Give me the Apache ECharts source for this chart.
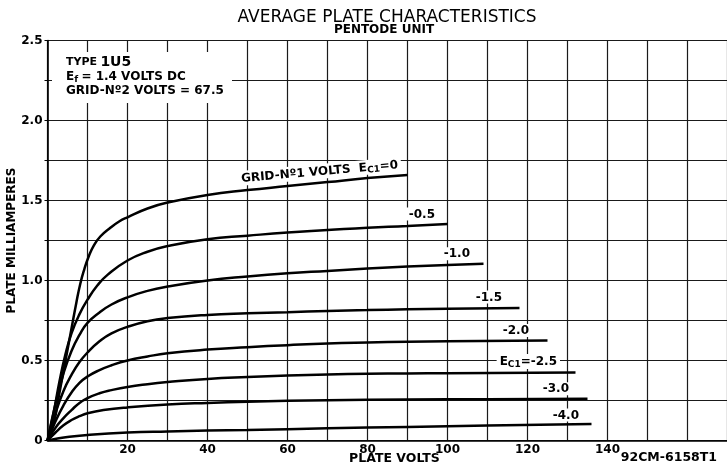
<!DOCTYPE html>
<html><head><meta charset="utf-8">
<script src="https://cdn.jsdelivr.net/npm/echarts@6/dist/echarts.min.js"></script>
<style>html,body{margin:0;padding:0;background:#fff}#c{width:727px;height:463px}</style>
</head><body><div id="c"></div>
<script>
// Plate volts / plate milliamperes pairs, one curve per grid-No.1 voltage
const ec0  = [[0,0],[1.5,0.1],[3,0.3],[4.5,0.5],[6,0.7],[7.2,0.86],[8.2,0.98],[9.2,1.07],[10.3,1.15],[11.6,1.22],[13.2,1.275],[15.5,1.325],[18,1.37],[20,1.395],[25,1.45],[30,1.487],[40,1.535],[50,1.565],[60,1.59],[70,1.615],[80,1.64],[90,1.66]];
const ec05 = [[0,0],[1.5,0.17],[3,0.37],[4.5,0.54],[6,0.67],[8,0.79],[10,0.88],[12.5,0.97],[15,1.035],[20,1.125],[25,1.18],[30,1.215],[40,1.258],[50,1.28],[60,1.30],[70,1.315],[80,1.33],[90,1.34],[100,1.353]];
const ec10 = [[0,0],[2,0.23],[4,0.42],[6,0.56],[8,0.66],[10,0.735],[13,0.8],[16,0.85],[20,0.895],[25,0.935],[30,0.962],[40,1.0],[50,1.025],[60,1.045],[70,1.06],[80,1.075],[90,1.087],[100,1.097],[109,1.105]];
const ec15 = [[0,0],[2,0.17],[4,0.31],[6,0.41],[8,0.49],[10,0.55],[13,0.62],[16,0.67],[20,0.71],[25,0.745],[30,0.765],[40,0.785],[50,0.795],[60,0.802],[70,0.81],[80,0.815],[90,0.82],[100,0.823],[118,0.828]];
const ec20 = [[0,0],[2,0.12],[4,0.22],[6,0.3],[8,0.36],[10,0.4],[13,0.44],[16,0.47],[20,0.5],[25,0.525],[30,0.545],[40,0.568],[50,0.583],[60,0.596],[70,0.607],[80,0.613],[90,0.617],[100,0.62],[125,0.625]];
const ec25 = [[0,0],[2,0.08],[4,0.14],[6,0.19],[8,0.235],[10,0.265],[13,0.295],[16,0.315],[20,0.335],[25,0.352],[30,0.365],[40,0.385],[50,0.397],[60,0.406],[70,0.413],[80,0.417],[90,0.419],[100,0.421],[132,0.425]];
const ec30 = [[0,0],[2,0.05],[4,0.095],[6,0.128],[8,0.152],[10,0.17],[14,0.19],[20,0.207],[30,0.225],[40,0.235],[50,0.242],[70,0.252],[90,0.256],[110,0.258],[135,0.261]];
const ec40 = [[0,0],[2.5,0.012],[5,0.022],[10,0.035],[20,0.05],[30,0.057],[40,0.062],[50,0.066],[70,0.076],[90,0.085],[110,0.093],[136,0.103]];

const curves = [ec0, ec05, ec10, ec15, ec20, ec25, ec30, ec40];
const curveLabels = ['GRID-Nº1 VOLTS  E{s|C1}=0', '-0.5', '-1.0', '-1.5', '-2.0', 'E{s|C1}=-2.5', '-3.0', '-4.0'];
const xTickLabels = [20, 40, 60, 80, 100, 120, 140];
const yTickLabels = [0, 0.5, 1.0, 1.5, 2.0, 2.5];

// label placement (pixel offsets from the curve end) — styling only
const labelOffsets = [[-5,-3],[-9,-3],[-10,-3],[-14,-4],[-15,-3],[-15,-3],[-15,-3],[-9,-2]];
const labelRotate = [5,0,0,0,0,0,0,0];

const FONT = 'DejaVu Sans';
const chart = echarts.init(document.getElementById('c'));

const series = curves.map((c, i) => ({
  type: 'line',
  data: c,
  smooth: 0.5,
  symbol: 'none',
  lineStyle: { color: '#000', width: 2.5 },
  z: 3,
  markPoint: {
    symbol: 'rect', symbolSize: 1,
    itemStyle: { color: 'rgba(0,0,0,0)' },
    z: 5,
    data: [{ coord: c[c.length - 1] }],
    label: {
      show: true, position: [0, 0], align: 'right', verticalAlign: 'bottom',
      offset: labelOffsets[i], rotate: labelRotate[i],
      formatter: curveLabels[i],
      fontFamily: FONT, fontSize: 12, fontWeight: 'bold', color: '#000',
      backgroundColor: '#fff', padding: [1, 3, 0, 3],
      rich: { s: { fontFamily: FONT, fontSize: 9, fontWeight: 'bold', color: '#000', padding: [5, 0, 0, 0] } }
    }
  }
}));

chart.setOption({
  animation: false,
  backgroundColor: '#fff',
  grid: { left: 47.5, top: 40.5, width: 680, height: 400, containLabel: false, outerBoundsMode: 'none' },
  xAxis: {
    type: 'value', min: 0, max: 170, interval: 10,
    name: 'PLATE VOLTS', nameLocation: 'middle', nameGap: 12, nameMoveOverlap: false,
    nameTextStyle: { fontFamily: FONT, fontSize: 12.5, fontWeight: 'bold', color: '#000', padding: [0, 0, 0, 14] },
    axisLine: { lineStyle: { color: '#000', width: 1.6 } },
    axisTick: { show: false },
    axisLabel: {
      margin: 3, fontFamily: FONT, fontSize: 12, fontWeight: 'bold', color: '#000',
      formatter: v => xTickLabels.indexOf(v) >= 0 ? String(v) : ''
    },
    splitLine: { show: true, lineStyle: { color: '#1a1a1a', width: 1.2 } }
  },
  yAxis: {
    type: 'value', min: 0, max: 2.5, interval: 0.25,
    name: 'PLATE MILLIAMPERES', nameLocation: 'middle', nameGap: 30, nameRotate: 90, nameMoveOverlap: false,
    nameTextStyle: { fontFamily: FONT, fontSize: 12, fontWeight: 'bold', color: '#000' },
    axisLine: { show: true, lineStyle: { color: '#000', width: 1.6 } },
    axisTick: { show: true, length: 3, lineStyle: { color: '#000' } },
    axisLabel: {
      margin: 5, fontFamily: FONT, fontSize: 12, fontWeight: 'bold', color: '#000',
      formatter: v => {
        const k = yTickLabels.findIndex(t => Math.abs(t - v) < 1e-6);
        return k < 0 ? '' : (v === 0 ? '0' : yTickLabels[k].toFixed(1));
      }
    },
    splitLine: { show: true, lineStyle: { color: '#1a1a1a', width: 1.2 } }
  },
  graphic: [
    { type: 'rect', z: 10, shape: { x: 52, y: 52, width: 180, height: 51 }, style: { fill: '#fff' } },
    { type: 'text', z: 11, x: 66, y: 62, style: {
        text: '{a|TYPE} {b|1U5}', verticalAlign: 'middle', fill: '#000',
        rich: { a: { fontFamily: FONT, fontSize: 11, fontWeight: 'bold' }, b: { fontFamily: FONT, fontSize: 14, fontWeight: 'bold' } } } },
    { type: 'text', z: 11, x: 66, y: 77, style: {
        text: '{a|E}{s|f} {a|= 1.4 VOLTS DC}', verticalAlign: 'middle', fill: '#000',
        rich: { a: { fontFamily: FONT, fontSize: 12, fontWeight: 'bold' }, s: { fontFamily: FONT, fontSize: 9, fontWeight: 'bold', padding: [6, 0, 0, 0] } } } },
    { type: 'text', z: 11, x: 66, y: 91, style: {
        text: 'GRID-Nº2 VOLTS = 67.5', verticalAlign: 'middle', fill: '#000',
        fontFamily: FONT, fontSize: 12, fontWeight: 'bold' } },
    { type: 'text', z: 11, x: 387, y: 18, style: {
        text: 'AVERAGE PLATE CHARACTERISTICS', align: 'center', verticalAlign: 'middle', fill: '#000',
        fontFamily: FONT, fontSize: 17 } },
    { type: 'text', z: 11, x: 384, y: 30, style: {
        text: 'PENTODE UNIT', align: 'center', verticalAlign: 'middle', fill: '#000',
        fontFamily: FONT, fontSize: 12, fontWeight: 'bold' } },
    { type: 'text', z: 11, x: 717, y: 458, style: {
        text: '92CM-6158T1', align: 'right', verticalAlign: 'middle', fill: '#000',
        fontFamily: FONT, fontSize: 12.5, fontWeight: 'bold' } }
  ],
  series: series
});
</script>
</body></html>
